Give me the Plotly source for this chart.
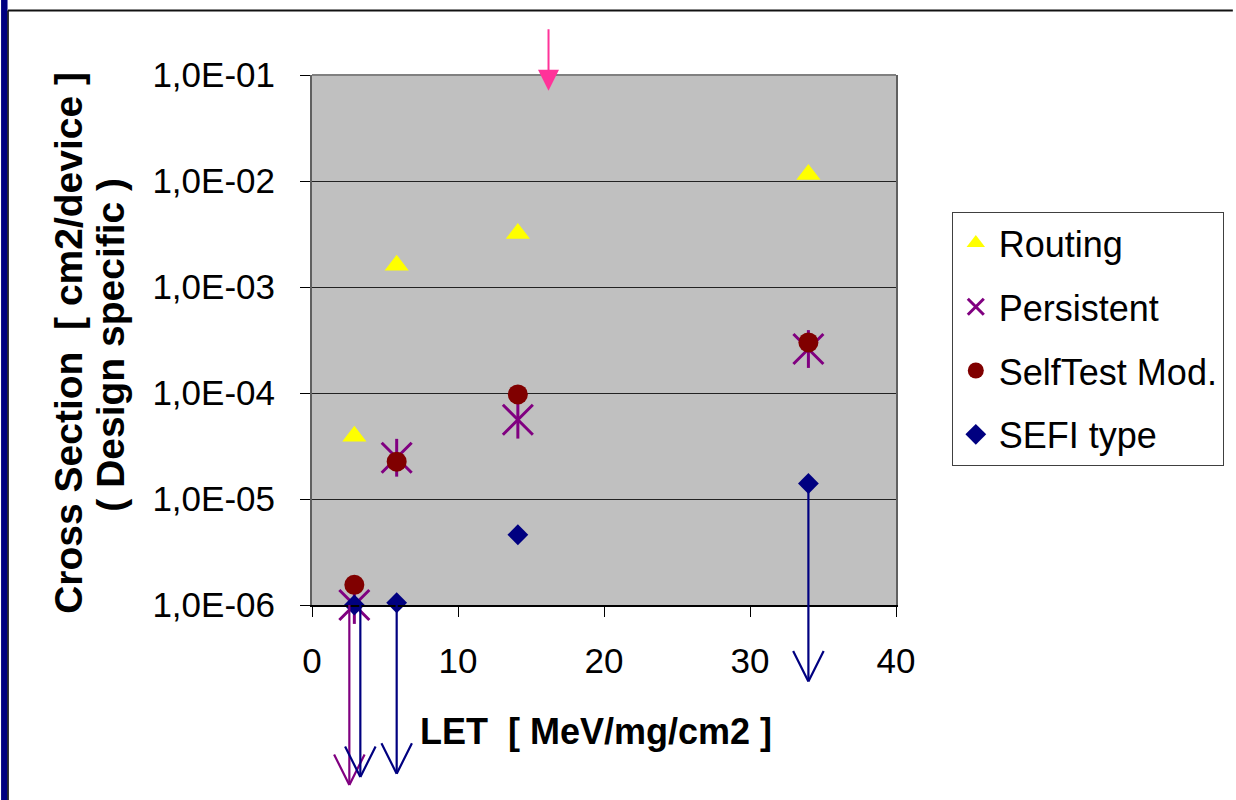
import numpy as np
import plotly.graph_objects as go

# ---------------- data ----------------
let_routing = [2.9, 5.8, 14.1, 34.0]
cs_routing = [3.9e-5, 1.6e-3, 3.2e-3, 1.15e-2]

let_persistent = [2.9, 5.8, 14.1, 34.0]
cs_persistent = [1.0e-6, 2.45e-5, 5.6e-5, 2.6e-4]

let_selftest = [2.9, 5.8, 14.1, 34.0]
cs_selftest = [1.55e-6, 2.25e-5, 9.7e-5, 3.0e-4]

let_sefi = [2.9, 5.8, 14.1, 34.0]
cs_sefi = [1.0e-6, 1.05e-6, 4.6e-6, 1.4e-5]

x_tickvals = [0, 10, 20, 30, 40]
x_ticktext = ["0", "10", "20", "30", "40"]
y_tickvals = [1e-6, 1e-5, 1e-4, 1e-3, 1e-2, 1e-1]
y_ticktext = ["1,0E-06", "1,0E-05", "1,0E-04", "1,0E-03", "1,0E-02", "1,0E-01"]

x_title = "LET\u00a0\u00a0[ MeV/mg/cm2 ]"
y_title_1 = "Cross Section\u00a0\u00a0[ cm2/device ]"
y_title_2 = "( Design specific )"

# upper-limit arrows: (x, y, pixel x-shift, pixel length, colour)
limit_arrows = [
    (let_persistent[0], cs_persistent[0], -5, 180, "#800080"),
    (let_sefi[0], cs_sefi[0], 6, 172, "#000080"),
    (let_sefi[1], cs_sefi[1], 0, 171, "#000080"),
    (let_sefi[3], cs_sefi[3], 0, 198, "#000080"),
]
# pink marker arrow at top
pink_arrow = (16.2, 7.1e-2, -63, "#FF3399")

# ---------------- layout geometry ----------------
W, H = 1236, 800
ML, MR, MT, MB = 312, 338, 75, 195
PW, PH = W - ML - MR, H - MT - MB
V_HALF, V_DEPTH = 16, 32   # open arrow-head size in pixels


def px(xp):
    return (xp - ML) / PW


def py(yp):
    return (H - MB - yp) / PH


FONT = "Liberation Sans, Arial, sans-serif"

fig = go.Figure()

fig.add_trace(go.Scatter(
    x=let_routing, y=cs_routing, mode="markers", name="Routing",
    marker=dict(symbol="triangle-up", size=21, color="#FFFF00"),
    cliponaxis=False, legendgroup="a"))

fig.add_trace(go.Scatter(
    x=let_persistent, y=cs_persistent, mode="markers", name="Persistent",
    marker=dict(symbol="x-thin-open", size=30, color="#800080",
                line=dict(width=3, color="#800080")),
    cliponaxis=False, legendgroup="b"))
fig.add_trace(go.Scatter(
    x=let_persistent, y=cs_persistent, mode="markers", name="Persistent",
    marker=dict(symbol="line-ns-open", size=27, color="#800080",
                line=dict(width=3, color="#800080")),
    cliponaxis=False, legendgroup="b", showlegend=False))

fig.add_trace(go.Scatter(
    x=let_selftest, y=cs_selftest, mode="markers", name="SelfTest Mod.",
    marker=dict(symbol="circle", size=20, color="#800000"),
    cliponaxis=False, legendgroup="c"))

fig.add_trace(go.Scatter(
    x=let_sefi, y=cs_sefi, mode="markers", name="SEFI type",
    marker=dict(symbol="diamond", size=16, color="#000080"),
    cliponaxis=False, legendgroup="d"))

annotations = []
for (xv, yv, xs, ln, col) in limit_arrows:
    common = dict(x=xv, y=np.log10(yv), xref="x", yref="y", text="",
                  showarrow=True, axref="pixel", ayref="pixel", xshift=xs,
                  arrowhead=0, arrowwidth=2.2, arrowcolor=col, standoff=0,
                  startstandoff=0, font=dict(size=1))
    # shaft
    annotations.append(dict(common, ax=0, ay=ln))
    # open V head (two arms meeting at the tip)
    for side in (-1, 1):
        annotations.append(dict(common, yshift=-ln, ax=side * V_HALF,
                                ay=-V_DEPTH))

annotations.append(dict(
    x=pink_arrow[0], y=np.log10(pink_arrow[1]), xref="x", yref="y",
    text="", showarrow=True, ax=0, ay=pink_arrow[2],
    arrowhead=2, arrowsize=2.1, arrowwidth=2, arrowcolor=pink_arrow[3],
    standoff=0, font=dict(size=1)))

# axis titles
annotations.append(dict(
    x=px(597), y=py(731), xref="paper", yref="paper", xanchor="center",
    yanchor="middle", showarrow=False, text="<b>" + x_title + "</b>",
    font=dict(size=36, family=FONT)))
annotations.append(dict(
    x=px(67), y=py(343), xref="paper", yref="paper", xanchor="center",
    yanchor="middle", showarrow=False, textangle=-90,
    text="<b>" + y_title_1 + "</b>", font=dict(size=39, family=FONT)))
annotations.append(dict(
    x=px(109), y=py(345), xref="paper", yref="paper", xanchor="center",
    yanchor="middle", showarrow=False, textangle=-90,
    text="<b>" + y_title_2 + "</b>", font=dict(size=39, family=FONT)))

shapes = [
    # plot-area top border
    dict(type="line", xref="paper", yref="paper", x0=0, x1=1, y0=1, y1=1,
         line=dict(color="#808080", width=2)),
    # slide frame: navy bar at left, black lines
    dict(type="rect", xref="paper", yref="paper", x0=px(0), x1=px(6.5),
         y0=py(0), y1=py(H), fillcolor="#000080", line=dict(width=0)),
    dict(type="line", xref="paper", yref="paper", x0=px(7), x1=px(7),
         y0=py(10.5), y1=py(H), line=dict(color="#000000", width=1.5)),
    dict(type="line", xref="paper", yref="paper", x0=px(7), x1=px(W),
         y0=py(10.5), y1=py(10.5), line=dict(color="#111111", width=2.2)),
]

fig.update_layout(
    width=W, height=H, autosize=False,
    margin=dict(l=ML, r=MR, t=MT, b=MB, pad=0),
    paper_bgcolor="white", plot_bgcolor="#C0C0C0",
    font=dict(family=FONT, size=35, color="black"),
    showlegend=True,
    legend=dict(x=px(954), y=py(212), xanchor="left", yanchor="top",
                bgcolor="white", bordercolor="#404040", borderwidth=1,
                font=dict(size=36, family=FONT), traceorder="grouped",
                tracegroupgap=14, itemwidth=36),
    annotations=annotations,
    shapes=shapes,
)

fig.update_xaxes(
    range=[0, 40], tickvals=x_tickvals, ticktext=x_ticktext,
    showgrid=False, zeroline=False, showline=True, linecolor="black",
    linewidth=1.5, ticks="outside", ticklen=10, tickcolor="black",
    tickwidth=1, ticklabelstandoff=14,
)
fig.update_yaxes(
    type="log", range=[-6, -1], tickvals=y_tickvals, ticktext=y_ticktext,
    showgrid=True, gridcolor="#222222", gridwidth=1, zeroline=False,
    showline=True, linecolor="#606060", linewidth=2, mirror=True,
    ticks="outside", ticklen=10, tickcolor="black", tickwidth=1,
    ticklabelstandoff=18,
)

fig.write_html("out.html")
